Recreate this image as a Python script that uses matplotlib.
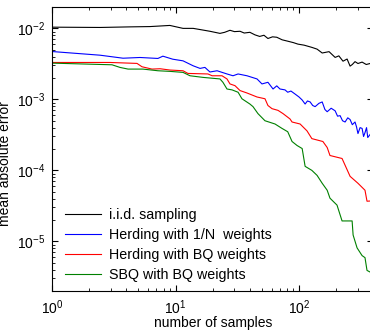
import matplotlib
matplotlib.use("Agg")
import matplotlib.pyplot as plt

plt.rcParams['font.family'] = ['Liberation Sans', 'DejaVu Sans']
plt.rcParams['mathtext.fontset'] = 'custom'
plt.rcParams['mathtext.rm'] = 'Liberation Sans'

# values (number of samples, mean absolute error)
iid_n = [1, 2.45, 4.3, 6.2, 7.5, 9.0, 11.5, 13.9, 16.5, 19, 22.9, 25, 27.6, 30, 33.3, 36, 40, 44, 48,
         52, 56, 61, 66, 73, 81, 90, 98, 110, 127, 140, 154, 175, 196, 210, 227, 245, 259, 270, 284, 300, 324, 350, 376]
iid_err = [0.0104, 0.0103, 0.0105, 0.0106, 0.0108, 0.0110, 0.0100, 0.0100, 0.0095, 0.0091, 0.0085, 0.0088,
           0.0094, 0.0090, 0.0091, 0.0086, 0.0088, 0.0081, 0.0077, 0.0080, 0.0072, 0.0076, 0.0075, 0.0069,
           0.0066, 0.0063, 0.0060, 0.0058, 0.0054, 0.0051, 0.0045, 0.0047, 0.0039, 0.0041, 0.00345, 0.0037,
           0.00294, 0.0031, 0.0034, 0.0032, 0.00335, 0.0031, 0.0032]

herd_n = [1, 2.45, 3.76, 5.16, 7.2, 7.9, 9.5, 11.5, 13.9, 15.8, 17.3, 19, 21.7, 26.1, 29.2, 32.1, 37.9,
          45.7, 50.1, 56, 61.6, 66, 70.1, 77, 81, 86, 92.8, 100, 106, 112, 117, 123, 129, 135, 145, 154,
          162, 169, 182, 196, 205, 215, 225, 236, 248, 259, 270, 284, 292, 300, 312, 324, 333, 342, 352, 360, 376]
herd_err = [0.00472, 0.00419, 0.0038, 0.00389, 0.00377, 0.00406, 0.00368, 0.00349, 0.00297, 0.00273,
            0.00282, 0.00243, 0.00253, 0.00228, 0.00215, 0.00228, 0.00215, 0.00194, 0.00165, 0.00174,
            0.0014, 0.00155, 0.0014, 0.00136, 0.00126, 0.00131, 0.00119, 0.00108, 0.00098, 0.00086, 0.00095,
            0.00092, 0.00082, 0.00079, 0.00088, 0.00092, 0.00072, 0.00067, 0.00075, 0.00069, 0.00058,
            0.00059, 0.00050, 0.00048, 0.00055, 0.00052, 0.00044, 0.00048, 0.00041, 0.00033, 0.00040,
            0.00039, 0.00030, 0.00034, 0.00040, 0.00029, 0.00032]

hbq_n = [1, 2.95, 4.88, 5.35, 6.45, 7.5, 9.0, 11.5, 12.6, 18.3, 19.8, 23.8, 26.1, 27.6, 30.3, 33.3, 37.9,
         45.7, 53, 56, 60.4, 67.6, 74.2, 84.5, 87.8, 102, 116, 127, 156, 169, 178, 223, 259, 300, 342, 355, 376]
hbq_err = [0.00331, 0.00331, 0.00321, 0.00288, 0.00267, 0.0027, 0.00259, 0.00253, 0.00232, 0.00228,
           0.00215, 0.00215, 0.00194, 0.00165, 0.00156, 0.00133, 0.00123, 0.00108, 0.00102, 0.00082,
           0.00074, 0.0007, 0.00063, 0.00053, 0.00048, 0.00045, 0.00036, 0.00028, 0.000255, 0.00021,
           0.000162, 0.000147, 0.0000824, 0.0000658, 0.0000525, 0.0000368, 0.000037]

sbq_n = [1, 3.06, 3.55, 4.13, 5.45, 7.2, 9.0, 11.5, 13.1, 16.7, 22.9, 24.2, 26.1, 28.7, 32.1, 34.5, 40,
         42.4, 46.5, 53, 63.9, 72.8, 81, 87.8, 96.4, 106, 112, 127, 140, 154, 169, 178, 203, 223, 269,
         274, 295, 324, 342, 355, 376]
sbq_err = [0.00324, 0.00307, 0.00282, 0.00267, 0.00267, 0.00253, 0.00248, 0.0024, 0.00215, 0.00204,
           0.00194, 0.00174, 0.0014, 0.00136, 0.00126, 0.00102, 0.00086, 0.00079, 0.00063, 0.0005, 0.00045,
           0.00039, 0.00035, 0.000255, 0.000224, 0.000203, 0.000114, 0.0001, 0.000085, 0.0000658,
           0.0000525, 0.0000406, 0.0000324, 0.0000194, 0.0000194, 0.0000123, 0.0000081, 0.0000063,
           0.0000059, 0.0000039, 0.0000037]

labels = ['i.i.d. sampling', 'Herding with 1/N  weights', 'Herding with BQ weights', 'SBQ with BQ weights']

fig = plt.figure(figsize=(3.7, 3.3), dpi=100)
ax = fig.add_axes([52/370, 39/330, 321.4/370, 284/330])

ax.plot(iid_n, iid_err, color='k', lw=0.8, label=labels[0])
ax.plot(herd_n, herd_err, color='b', lw=0.8, label=labels[1])
ax.plot(hbq_n, hbq_err, color='r', lw=0.8, label=labels[2])
ax.plot(sbq_n, sbq_err, color=(0, 0.5, 0), lw=0.8, label=labels[3])

ax.set_xscale('log')
ax.set_yscale('log')
ax.set_xlim(1, 400)
ax.set_ylim(2e-6, 2e-2)
ax.tick_params(which='both', direction='in', top=True, right=True, labelsize=10)
ax.tick_params(which='major', length=4, pad=5)
ax.tick_params(which='minor', length=2)
ax.set_xlabel('number of samples', fontsize=10)
ax.set_ylabel('mean absolute error', fontsize=10)
ax.xaxis.set_label_coords(0.5, -0.088)
ax.yaxis.set_label_coords(-0.123, 0.45)

ax.legend(loc='lower left', frameon=False, fontsize=10.3, handlelength=2.5, handletextpad=0.6,
          labelspacing=0.42, borderaxespad=0, borderpad=0,
          bbox_to_anchor=(13/321.4, 9/284))

fig.savefig('out.png', dpi=100)
